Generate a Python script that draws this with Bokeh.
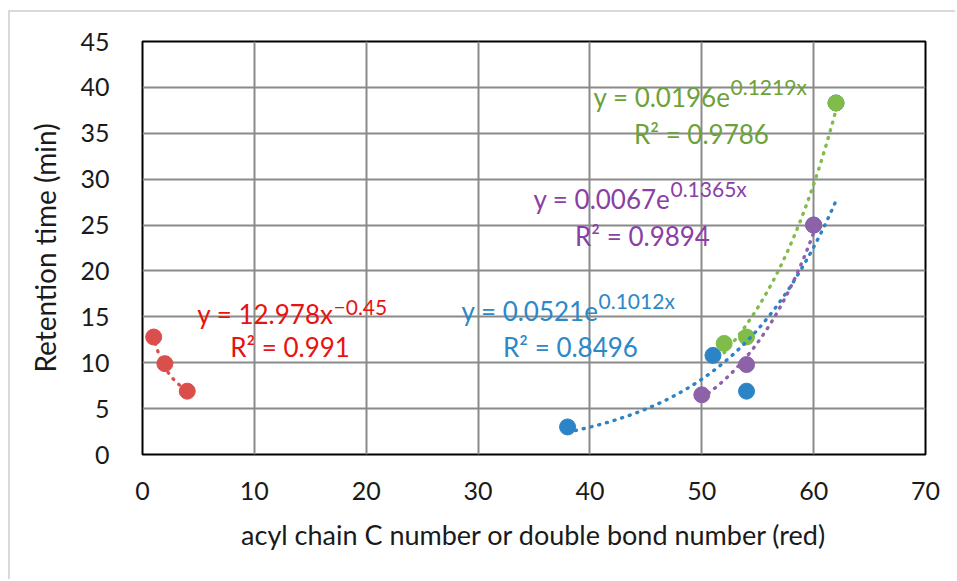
import numpy as np
from bokeh.plotting import figure
from bokeh.models import Range1d, SingleIntervalTicker
from bokeh.core.properties import value
from bokeh.embed import file_html
from bokeh.resources import INLINE

# ---------------- data ----------------
red_x = [1, 2, 4]
red_y = [12.8, 9.9, 6.9]
blue_x = [38, 51, 54, 60, 62]
blue_y = [3.0, 10.8, 6.9, 25.0, 38.3]
purple_x = [50, 54, 60]
purple_y = [6.5, 9.8, 25.0]
green_x = [52, 54, 62]
green_y = [12.1, 12.8, 38.3]

# trendline coefficients shown on the chart
red_fit = (12.978, -0.45)      # power  y = a x^b
blue_fit = (0.0521, 0.1012)    # exp    y = a e^(b x)
purple_fit = (0.0067, 0.1365)
green_fit = (0.0196, 0.1219)

red_eq = ("y = 12.978x", "\u22120.45", "R\u00b2 = 0.991")
blue_eq = ("y = 0.0521e", "0.1012x", "R\u00b2 = 0.8496")
purple_eq = ("y = 0.0067e", "0.1365x", "R\u00b2 = 0.9894")
green_eq = ("y = 0.0196e", "0.1219x", "R\u00b2 = 0.9786")

x_title = "acyl chain C number or double bond number (red)"
y_title = "Retention time (min)"
x_ticks_step = 10
y_ticks_step = 5

# ---------------- styles ----------------
FONT = "Lato"
C_RED_M, C_RED_T = "#DA4F4C", "#E8130F"
C_BLUE_M, C_BLUE_T = "#2C83C5", "#2C88C8"
C_PUR_M, C_PUR_T = "#8E62A8", "#8A3FA6"
C_GRN_M, C_GRN_T = "#80BC4A", "#6CA23A"

W, H = 947, 569
OX, OY = 10, 12  # canvas offset in page
p = figure(width=W, height=H, output_backend="svg", toolbar_location=None,
           x_range=Range1d(0, 70), y_range=Range1d(0, 45),
           min_border_left=142 - OX, min_border_right=W - (925 - OX),
           min_border_top=41 - OY, min_border_bottom=H - (454 - OY))
p.margin = (10, 0, 0, 8)
p.styles = {"border-left": "2px solid #d9d9d9", "border-top": "2px solid #d9d9d9"}

p.outline_line_color = "black"
p.outline_line_width = 2
p.background_fill_color = "white"
p.border_fill_color = "white"

p.xaxis.ticker = SingleIntervalTicker(interval=x_ticks_step)
p.yaxis.ticker = SingleIntervalTicker(interval=y_ticks_step)
p.xgrid.ticker = SingleIntervalTicker(interval=x_ticks_step)
p.ygrid.ticker = SingleIntervalTicker(interval=y_ticks_step)
for g in (p.xgrid, p.ygrid):
    g.grid_line_color = "#8a8a8a"
    g.grid_line_width = 2
for ax in (p.xaxis, p.yaxis):
    ax.axis_line_color = None
    ax.major_tick_line_color = None
    ax.minor_tick_line_color = None
    ax.major_label_text_font = FONT
    ax.major_label_text_font_size = "25px"
    ax.major_label_text_color = "#1a1a1a"
    ax.axis_label_text_font = FONT
    ax.axis_label_text_font_style = "normal"
    ax.axis_label_text_color = "#1a1a1a"
p.xaxis.axis_label = x_title
p.xaxis.axis_label_text_font_size = "27px"
p.xaxis.major_label_standoff = 21
p.xaxis.axis_label_standoff = 15
p.yaxis.axis_label = y_title
p.yaxis.axis_label_text_font_size = "28px"
p.yaxis.major_label_standoff = 27
p.yaxis.axis_label_standoff = 15

# markers
MS = 16
p.scatter(blue_x, blue_y, size=MS, color=C_BLUE_M)
p.scatter(purple_x, purple_y, size=MS, color=C_PUR_M)
p.scatter(green_x, green_y, size=MS, color=C_GRN_M)
p.scatter(red_x, red_y, size=MS, color=C_RED_M)

# trendlines
def exp_line(xs, fit):
    t = np.linspace(min(xs), max(xs), 200)
    return t, fit[0] * np.exp(fit[1] * t)

def pow_line(xs, fit):
    t = np.linspace(min(xs), max(xs), 200)
    return t, fit[0] * t ** fit[1]

for (tx, ty), col in ((pow_line(red_x, red_fit), C_RED_M),
                      (exp_line(blue_x, blue_fit), C_BLUE_M),
                      (exp_line(purple_x, purple_fit), C_PUR_M),
                      (exp_line(green_x, green_fit), C_GRN_M)):
    p.line(tx, ty, line_color=col, line_width=3.4, line_dash="1 7",
           line_cap="round")

# equation labels (anchor = junction between base text and exponent)
labels = [
    (red_eq, C_RED_T, (17.08, 15.36, 16.05), (13.19, 11.66)),
    (blue_eq, C_BLUE_T, (40.77, 15.69, 16.75), (38.26, 11.66)),
    (purple_eq, C_PUR_T, (47.20, 27.89, 28.95), (44.70, 23.86)),
    (green_eq, C_GRN_T, (52.57, 38.90, 40.15), (49.97, 34.97)),
]
for (main, sup, r2), col, (jx, my, sy), (rx, ry) in labels:
    p.text([jx], [my], text=[main], text_color=col, text_font=value(FONT),
           text_font_size="26px", text_align="right", text_baseline="middle")
    p.text([jx], [sy], text=[sup], text_color=col, text_font=value(FONT),
           text_font_size="21px", text_align="left", text_baseline="middle")
    p.text([rx], [ry], text=[r2], text_color=col, text_font=value(FONT),
           text_font_size="26px", text_align="center", text_baseline="middle")

open("out.html", "w").write(file_html(p, INLINE))
